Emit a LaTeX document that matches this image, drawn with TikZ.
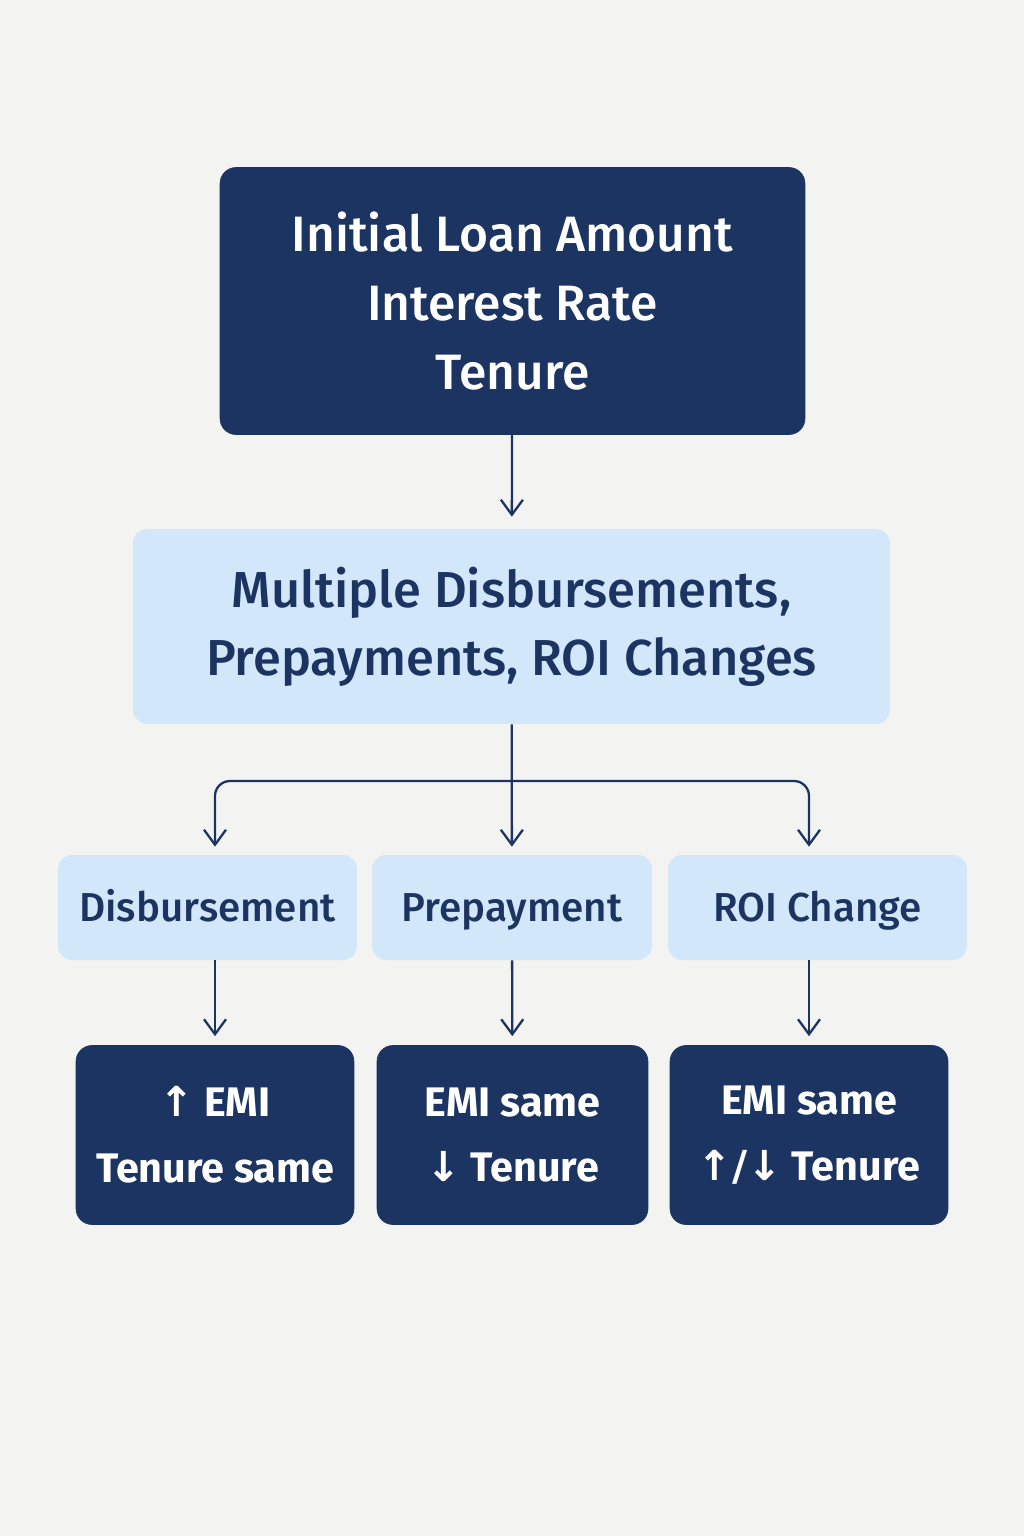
\documentclass[tikz,border=0pt]{standalone}
\usepackage{fontspec}
\setmainfont{Fira Sans}
\newfontfamily\medfont{Fira Sans Medium}
\newfontfamily\arrowfont{DejaVu Sans}
\usetikzlibrary{arrows.meta,positioning}
\definecolor{navy}{HTML}{1C3461}
\definecolor{paleblue}{HTML}{D2E7F9}
\definecolor{bggray}{HTML}{F3F3F2}

\begin{document}
\begin{tikzpicture}[x=0.02cm,y=-0.02cm,
  darkbox/.style={fill=navy,draw=navy,rounded corners=0.32cm,text=white,align=center,inner sep=0pt},
  lightbox/.style={fill=paleblue,rounded corners=0.28cm,text=navy,align=center,inner sep=0pt},
  eventbox/.style={lightbox,minimum height=2.1cm,text height=22pt,text depth=6pt,font=\medfont\fontsize{23}{28}\selectfont},
  link/.style={draw=navy,line width=1.3pt,-{Straight Barb[length=0.3cm,width=0.44cm]}}]
\fill[bggray] (0,0) rectangle (1024,1536);
\useasboundingbox (0,0) rectangle (1024,1536);

\node[darkbox,minimum width=11.7cm,minimum height=5.34cm,font=\medfont\fontsize{28.3}{39.5}\selectfont] (inputs) at (512.5,301) {Initial Loan Amount\\Interest Rate\\Tenure};
\node[lightbox,minimum width=15.14cm,minimum height=3.9cm,font=\medfont\fontsize{28.8}{38.7}\selectfont] (events) at (511.5,626.5) {Multiple Disbursements,\\Prepayments, ROI Changes};

\node[eventbox,minimum width=5.98cm] (disb) at (207.5,907.5) {Disbursement};
\node[eventbox,minimum width=5.6cm] (prep) at (512,907.5) {Prepayment};
\node[eventbox,minimum width=5.98cm] (roi) at (817.5,907.5) {ROI Change};

\node[darkbox,minimum width=5.56cm,minimum height=3.58cm,font=\bfseries\fontsize{23.5}{37.5}\selectfont] (resdisb) at (215,1135) {{\arrowfont↑} EMI\\Tenure same};
\node[darkbox,minimum width=5.42cm,minimum height=3.58cm,font=\bfseries\fontsize{23.5}{37.5}\selectfont] (resprep) at (512.5,1135) {EMI same\\{\arrowfont↓} Tenure};
\node[darkbox,minimum width=5.56cm,minimum height=3.58cm,font=\bfseries\fontsize{23.5}{37.5}\selectfont] (resroi) at (809,1135) {EMI same\\{\arrowfont↑/↓} Tenure};

\coordinate (split) at (512,781);
\draw[link,shorten >=0.24cm] (inputs) -- (events);
\draw[link,shorten >=0.16cm] (events) -- (prep);
\draw[link,rounded corners=0.3cm,shorten >=0.16cm] (split) -| (resdisb.north |- disb.north);
\draw[link,rounded corners=0.3cm,shorten >=0.16cm] (split) -| (resroi.north |- roi.north);
\draw[link,shorten >=0.18cm] (disb.south -| resdisb.north) -- (resdisb);
\draw[link,shorten >=0.18cm] (prep) -- (resprep);
\draw[link,shorten >=0.18cm] (roi.south -| resroi.north) -- (resroi);
\end{tikzpicture}
\end{document}
